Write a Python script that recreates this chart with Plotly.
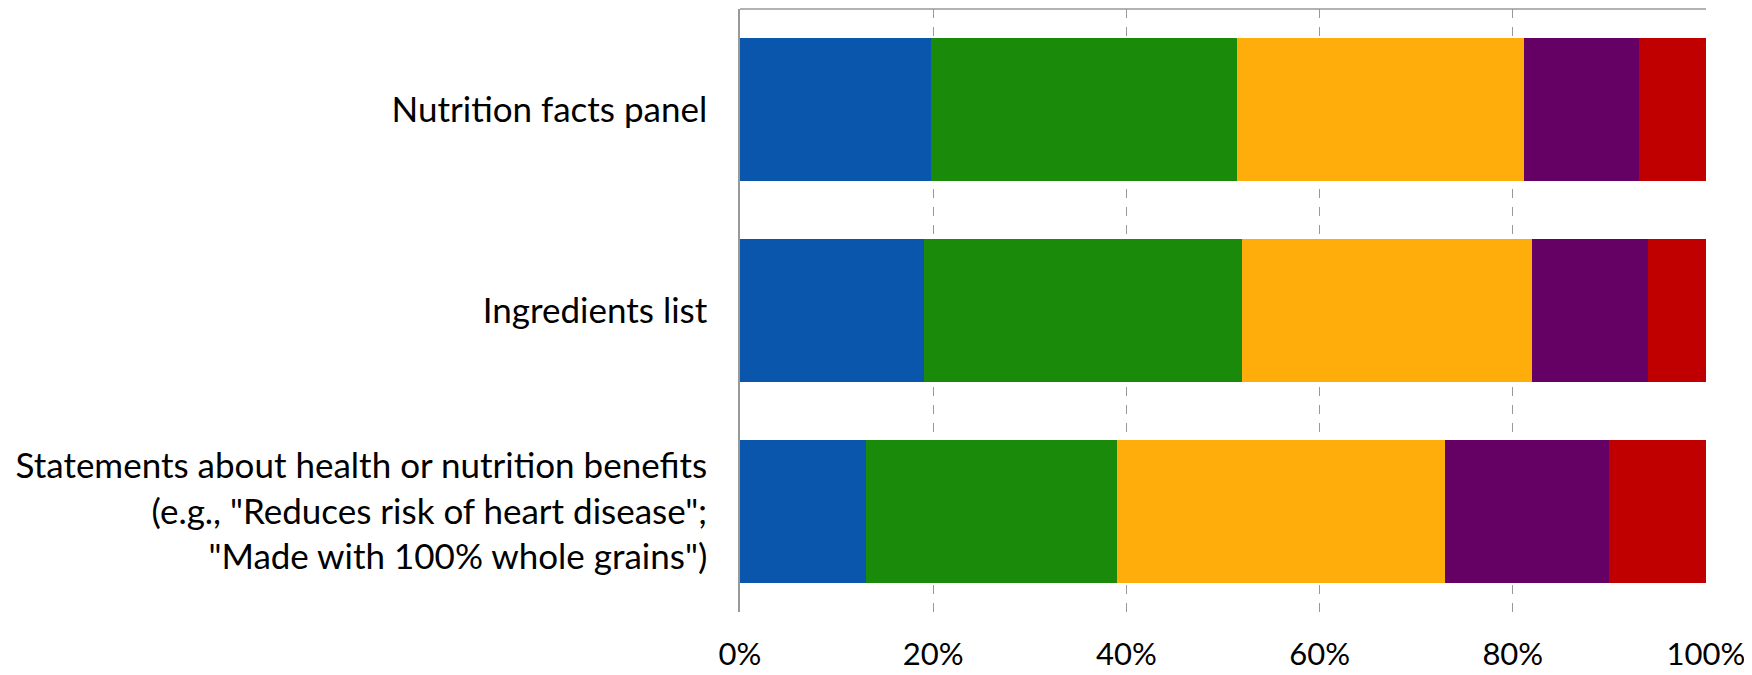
import plotly.graph_objects as go

categories = [
    "Nutrition facts panel",
    "Ingredients list",
    "Statements about health or nutrition benefits<br>(e.g., \"Reduces risk of heart disease\";<br>\"Made with 100% whole grains\")",
]
series_names = ["Series 1", "Series 2", "Series 3", "Series 4", "Series 5"]
series_values = [
    [19.8, 19.0, 13.0],
    [31.6, 33.0, 26.0],
    [29.8, 30.0, 34.0],
    [11.9, 12.0, 17.0],
    [6.9, 6.0, 10.0],
]
colors = ["#0A56AD", "#1A8A0A", "#FFAD0A", "#650065", "#C00000"]
tick_vals = [0, 20, 40, 60, 80, 100]
tick_text = ["0%", "20%", "40%", "60%", "80%", "100%"]

fig = go.Figure()
for name, vals, col in zip(series_names, series_values, colors):
    fig.add_trace(go.Bar(
        y=categories, x=vals, name=name, orientation="h",
        marker=dict(color=col, line=dict(width=0)),
        showlegend=False,
    ))

font_family = "Lato, 'Open Sans', sans-serif"
fig.update_layout(
    barmode="stack",
    bargap=0.286,
    width=1744, height=667,
    margin=dict(l=732, r=46, t=1, b=63, pad=0, autoexpand=False),
    plot_bgcolor="white", paper_bgcolor="white",
    font=dict(family=font_family, size=35, color="black"),
    xaxis=dict(
        range=[0, 100], tickvals=tick_vals, ticktext=tick_text,
        showgrid=True, gridcolor="#999999", griddash="dash", gridwidth=1,
        zeroline=False, showline=False, automargin=False,
        ticks="outside", ticklen=15, tickcolor="rgba(0,0,0,0)",
        tickfont=dict(size=31),
    ),
    yaxis=dict(
        autorange="reversed", showgrid=False, zeroline=False,
        showline=True, linecolor="#999999", linewidth=1.5, automargin=False,
        ticks="outside", ticklen=24, tickcolor="rgba(0,0,0,0)",
        tickfont=dict(size=35),
    ),
    shapes=[dict(type="line", xref="paper", yref="paper", x0=0, x1=1, y0=1, y1=1,
                 line=dict(color="#999999", width=1.5))],
)
fig.write_html("out.html")
